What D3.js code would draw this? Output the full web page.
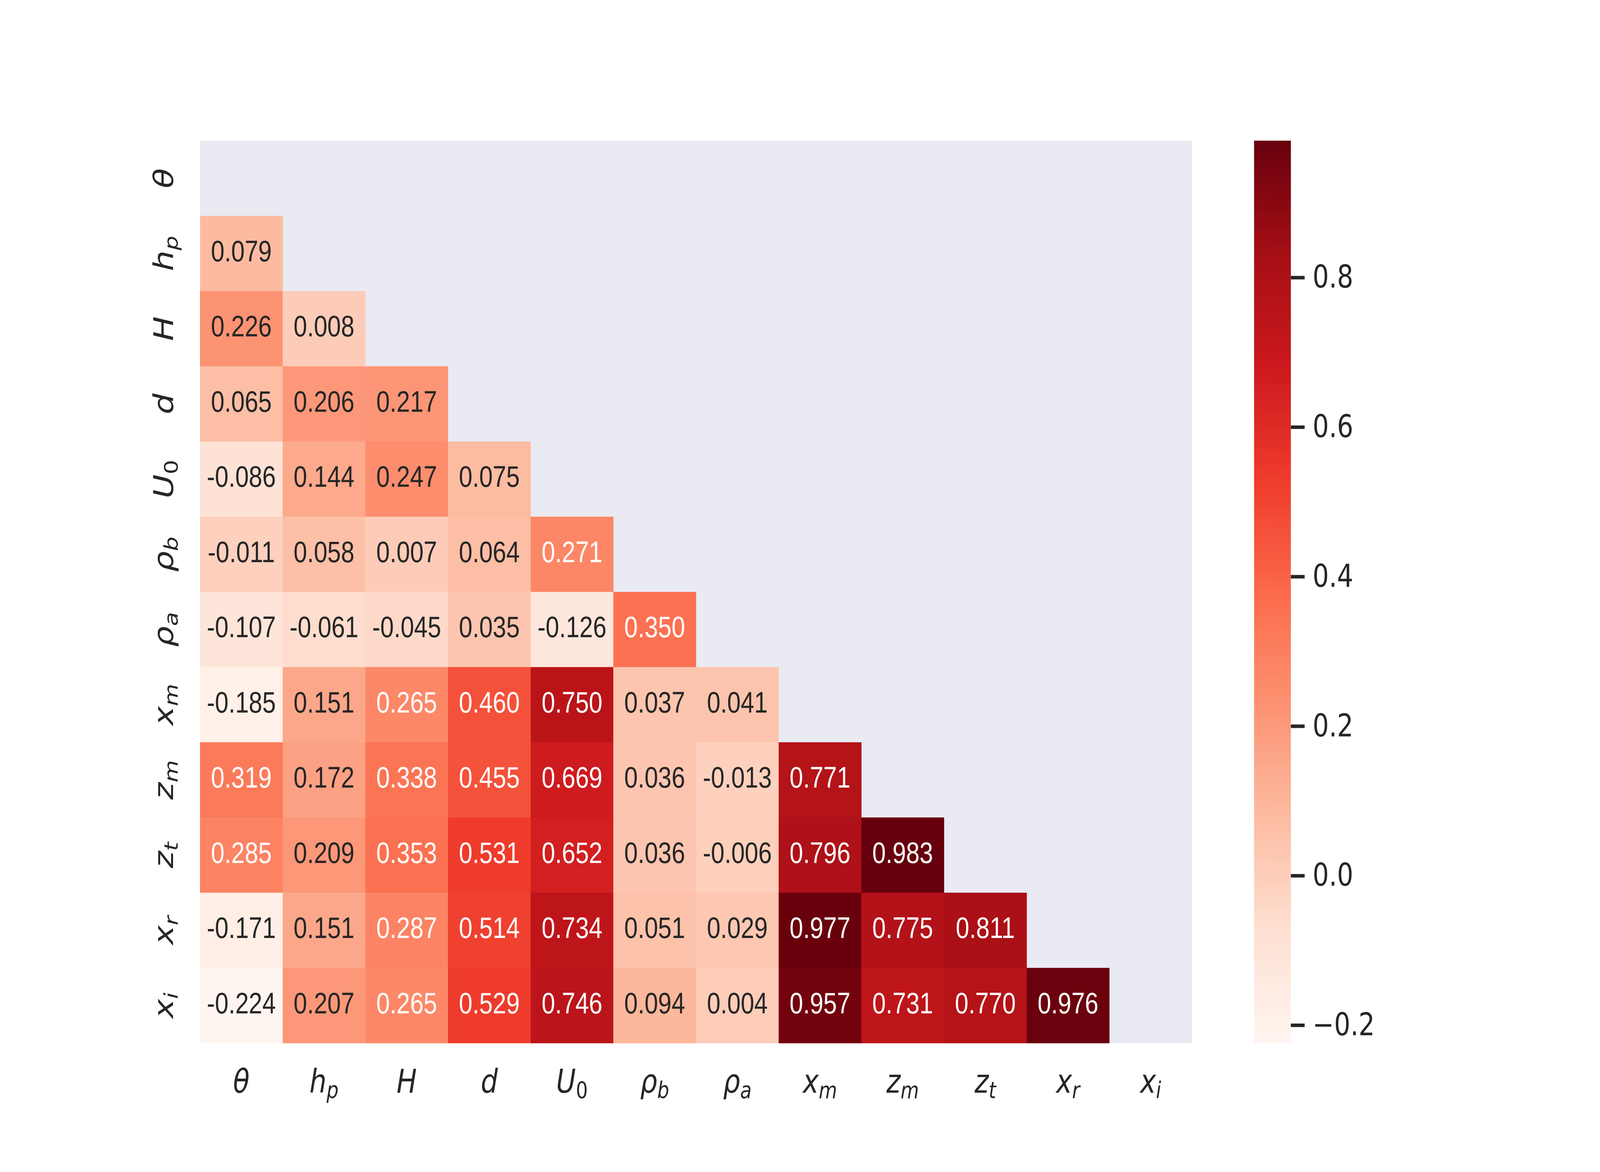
<!DOCTYPE html>
<html>
<head>
<meta charset="utf-8">
<script src="https://cdn.jsdelivr.net/npm/d3@7"></script>
<style>
  html, body { margin: 0; padding: 0; background: #fff; overflow: hidden; }
  #chart svg { display: block; width: 100vw; height: 100vh; }
</style>
</head>
<body>
<div id="chart"></div>
<script>
// variable labels: [main symbol, subscript, subscript upright?]
const labels = [
  ["θ", "", false], ["h", "p", false], ["H", "", false], ["d", "", false],
  ["U", "0", true], ["ρ", "b", false], ["ρ", "a", false], ["x", "m", false],
  ["z", "m", false], ["z", "t", false], ["x", "r", false], ["x", "i", false]
];

// lower triangle of the correlation matrix, one array per row
const rowTheta = [];
const rowHp  = [0.079];
const rowH   = [0.226, 0.008];
const rowD   = [0.065, 0.206, 0.217];
const rowU0  = [-0.086, 0.144, 0.247, 0.075];
const rowRhoB = [-0.011, 0.058, 0.007, 0.064, 0.271];
const rowRhoA = [-0.107, -0.061, -0.045, 0.035, -0.126, 0.350];
const rowXm  = [-0.185, 0.151, 0.265, 0.460, 0.750, 0.037, 0.041];
const rowZm  = [0.319, 0.172, 0.338, 0.455, 0.669, 0.036, -0.013, 0.771];
const rowZt  = [0.285, 0.209, 0.353, 0.531, 0.652, 0.036, -0.006, 0.796, 0.983];
const rowXr  = [-0.171, 0.151, 0.287, 0.514, 0.734, 0.051, 0.029, 0.977, 0.775, 0.811];
const rowXi  = [-0.224, 0.207, 0.265, 0.529, 0.746, 0.094, 0.004, 0.957, 0.731, 0.770, 0.976];
const rows = [rowTheta, rowHp, rowH, rowD, rowU0, rowRhoB, rowRhoA, rowXm, rowZm, rowZt, rowXr, rowXi];

const cbTicks = [-0.2, 0.0, 0.2, 0.4, 0.6, 0.8];

// matplotlib "Reds" colormap stops
const reds = ["#fff5f0", "#fee0d2", "#fcbba1", "#fc9272", "#fb6a4a", "#ef3b2c", "#cb181d", "#a50f15", "#67000d"];

const W = 5000, H = 3000;
const box = {left: 625, right: 3725, top: 360, bottom: 2670};
const cb = {left: 3919, right: 4034};
const ink = "#262626";
const tickFont = 84;

// drawn in a 5000x3000 frame and stretched to whatever window we get
const svg = d3.select("#chart").append("svg")
  .attr("viewBox", "0 0 " + W + " " + H)
  .attr("preserveAspectRatio", "none");
svg.append("rect").attr("width", W).attr("height", H).attr("fill", "#fff");

const keys = labels.map((d, i) => "v" + i);

const x = d3.scaleBand().domain(keys).range([box.left, box.right]);
const y = d3.scaleBand().domain(keys).range([box.top, box.bottom]);

// flatten cells
let cells = [];
rows.forEach((r, i) => {
  r.forEach((v, j) => cells.push({row: i, col: j, v: v}));
});

const vmin = d3.min(cells, d => d.v);
const vmax = d3.max(cells, d => d.v);

const cmapPos = d3.scaleLinear().domain([vmin, vmax]).range([0, 1]).clamp(true);
const cmap = d3.scaleLinear()
  .domain(reds.map((c, i) => i / (reds.length - 1)))
  .range(reds)
  .interpolate(d3.interpolateRgb);
const color = v => cmap(cmapPos(v));

// seaborn picks annotation colour from luminance
function lum(c) {
  const rgb = d3.rgb(c);
  const f = u => { u = u / 255; return u <= 0.03928 ? u / 12.92 : Math.pow((u + 0.055) / 1.055, 2.4); };
  return 0.2126 * f(rgb.r) + 0.7152 * f(rgb.g) + 0.0722 * f(rgb.b);
}

// axes face (masked area)
svg.append("rect")
  .attr("x", box.left).attr("y", box.top)
  .attr("width", box.right - box.left).attr("height", box.bottom - box.top)
  .attr("fill", "#eaeaf2");

const g = svg.append("g");

g.selectAll("rect.cell")
  .data(cells)
  .enter()
  .append("rect")
  .attr("class", "cell")
  .attr("x", d => x(keys[d.col]))
  .attr("y", d => y(keys[d.row]))
  .attr("width", x.bandwidth() + 0.5)
  .attr("height", y.bandwidth() + 0.5)
  .attr("fill", d => color(d.v));

g.selectAll("text.annot")
  .data(cells)
  .enter()
  .append("text")
  .attr("class", "annot")
  .attr("x", d => x(keys[d.col]) + x.bandwidth() / 2)
  .attr("y", d => y(keys[d.row]) + y.bandwidth() / 2 + 20)
  .attr("text-anchor", "middle")
  .attr("font-family", "'Liberation Sans', Arial, sans-serif")
  .attr("font-size", 76)
  .attr("fill", d => lum(color(d.v)) > 0.408 ? ink : "#ffffff")
  .text(d => d3.format(".3f")(d.v).replace("−", "-"));

// math-style tick label
function mathLabel(sel, d) {
  sel.append("tspan")
    .attr("font-style", "italic")
    .text(d[0]);
  if (d[1]) {
    sel.append("tspan")
      .attr("font-style", d[2] ? "normal" : "italic")
      .attr("font-size", tickFont * 0.7)
      .attr("dy", 14)
      .text(d[1]);
  }
}

// x tick labels
const xl = svg.append("g").attr("id", "x-axis");
labels.forEach((d, i) => {
  const t = xl.append("text")
    .attr("x", x(keys[i]) + x.bandwidth() / 2)
    .attr("y", 2797)
    .attr("text-anchor", "middle")
    .attr("font-family", "'DejaVu Sans', sans-serif")
    .attr("font-size", tickFont)
    .attr("fill", ink);
  mathLabel(t, d);
});

// y tick labels (rotated)
const yl = svg.append("g").attr("id", "y-axis");
labels.forEach((d, i) => {
  const t = yl.append("text")
    .attr("transform", "translate(541," + (y(keys[i]) + y.bandwidth() / 2) + ") rotate(-90)")
    .attr("text-anchor", "middle")
    .attr("font-family", "'DejaVu Sans', sans-serif")
    .attr("font-size", tickFont)
    .attr("fill", ink);
  mathLabel(t, d);
});

// colorbar
const cbScale = d3.scaleLinear().domain([vmin, vmax]).range([box.bottom, box.top]);
const grad = svg.append("defs").append("linearGradient")
  .attr("id", "cbgrad")
  .attr("x1", 0).attr("y1", 1).attr("x2", 0).attr("y2", 0);
d3.range(0, 1.0001, 0.02).forEach(t => {
  grad.append("stop")
    .attr("offset", t)
    .attr("stop-color", cmap(t));
});
svg.append("rect")
  .attr("x", cb.left).attr("y", box.top)
  .attr("width", cb.right - cb.left).attr("height", box.bottom - box.top)
  .attr("fill", "url(#cbgrad)");

const cbAxis = d3.axisRight(cbScale)
  .tickValues(cbTicks)
  .tickFormat(d3.format(".1f"))
  .tickSize(43)
  .tickPadding(25);

const cbG = svg.append("g")
  .attr("transform", "translate(" + cb.right + ",0)")
  .call(cbAxis);
cbG.select(".domain").remove();
cbG.selectAll(".tick line").attr("stroke", ink).attr("stroke-width", 9);
cbG.selectAll(".tick text")
  .attr("font-family", "'DejaVu Sans', sans-serif")
  .attr("font-size", 80)
  .attr("fill", ink);
</script>
</body>
</html>
